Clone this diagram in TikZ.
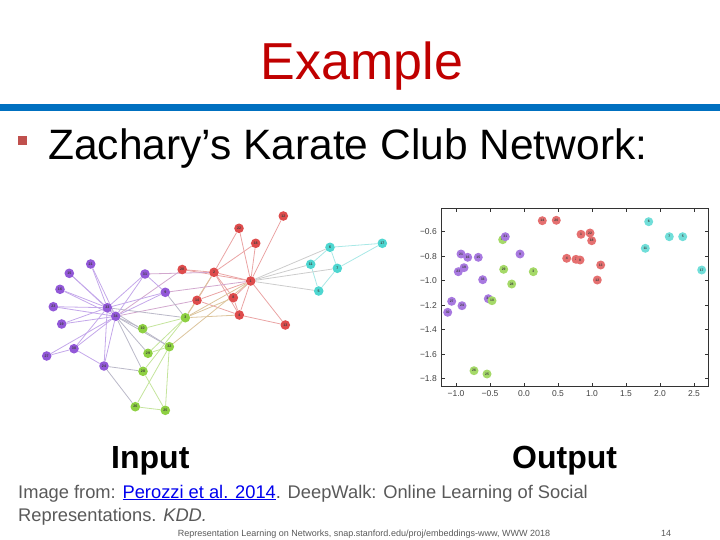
\documentclass[tikz,border=0pt]{standalone}
\usepackage{fontspec}
\setmainfont{Liberation Sans}
\usetikzlibrary{backgrounds}
\definecolor{titlered}{RGB}{192,0,0}
\definecolor{barblue}{RGB}{0,112,192}
\definecolor{bulletred}{RGB}{192,80,77}
\definecolor{citegray}{RGB}{89,89,89}
\definecolor{linkblue}{RGB}{0,0,238}
\definecolor{cP}{RGB}{146,88,216}
\definecolor{cR}{RGB}{222,76,76}
\definecolor{cG}{RGB}{142,208,66}
\definecolor{cC}{RGB}{78,214,208}
\definecolor{eP}{RGB}{196,168,234}
\definecolor{eR}{RGB}{234,164,164}
\definecolor{eG}{RGB}{196,228,156}
\definecolor{eC}{RGB}{168,232,230}
\definecolor{eRP}{RGB}{210,168,206}
\definecolor{eRG}{RGB}{220,196,156}
\definecolor{eGP}{RGB}{186,184,200}
\definecolor{eRC}{RGB}{204,204,204}
\begin{document}
\begin{tikzpicture}[x=1pt,y=-1pt,
  gnode/.style={circle,inner sep=0pt,minimum size=9.6pt,
    font=\fontsize{3.6}{4}\selectfont\bfseries,text=black!75},
  pn/.style={gnode,fill=cP},
  rn/.style={gnode,fill=cR},
  gn/.style={gnode,fill=cG},
  cn/.style={gnode,fill=cC},
  snode/.style={circle,inner sep=0pt,minimum size=9pt,
    font=\fontsize{3.4}{4}\selectfont\bfseries,text=black!75},
  sp/.style={snode,fill=cP!80!white},
  sr/.style={snode,fill=cR!80!white},
  sg/.style={snode,fill=cG!80!white},
  sc/.style={snode,fill=cC!80!white},
  edgeP/.style={draw=eP,line width=0.8pt},
  edgeR/.style={draw=eR,line width=0.8pt},
  edgeG/.style={draw=eG,line width=0.8pt},
  edgeC/.style={draw=eC,line width=0.8pt},
  edgeRP/.style={draw=eRP,line width=0.8pt},
  edgeRG/.style={draw=eRG,line width=0.8pt},
  edgeGP/.style={draw=eGP,line width=0.8pt},
  edgeRC/.style={draw=eRC,line width=0.8pt},
  tick/.style={draw=black!80,line width=0.5pt},
  ticklab/.style={font=\fontsize{8.5}{10}\selectfont,text=black!75,inner sep=0pt}
]
\useasboundingbox (0,0) rectangle (720,540);

% ---------- header ----------
\node[anchor=base,text=titlered,font=\fontsize{52}{60}\selectfont,inner sep=0pt] (title) at (362,80) {Example};
\fill[barblue] (0,104.5) rectangle (720,111.5);
\fill[bulletred] (18,136) rectangle (27,145);
\node[anchor=base west,font=\fontsize{42.5}{48}\selectfont,inner sep=0pt] (bullet) at (48,160) {Zachary’s Karate Club Network:};

% ---------- input graph: nodes ----------
\node[rn] (n1) at (250.7,281) {1};
\node[rn] (n2) at (214,272.3) {2};
\node[gn] (n3) at (185.3,317.7) {3};
\node[rn] (n4) at (239.3,315) {4};
\node[cn] (n5) at (318.7,291) {5};
\node[cn] (n6) at (330,247.3) {6};
\node[cn] (n7) at (337.3,268.3) {7};
\node[rn] (n8) at (233.3,297.7) {8};
\node[pn] (n9) at (165.3,292.3) {9};
\node[gn] (n10) at (142.7,328.7) {10};
\node[cn] (n11) at (310.7,264.3) {11};
\node[rn] (n12) at (283.3,216) {12};
\node[rn] (n13) at (285.3,325) {13};
\node[rn] (n14) at (197,300.3) {14};
\node[pn] (n15) at (69.3,273.3) {15};
\node[pn] (n16) at (60,289.3) {16};
\node[cn] (n17) at (382.3,243.3) {17};
\node[rn] (n18) at (255.7,243.3) {18};
\node[pn] (n19) at (61.7,324) {19};
\node[rn] (n20) at (182.2,269.5) {20};
\node[pn] (n21) at (90.7,264) {21};
\node[rn] (n22) at (239,228.3) {22};
\node[pn] (n23) at (53.3,306.7) {23};
\node[pn] (n24) at (104,366) {24};
\node[gn] (n25) at (165.3,410.3) {25};
\node[gn] (n26) at (135.3,406.7) {26};
\node[pn] (n27) at (46.7,356) {27};
\node[gn] (n28) at (143,371.3) {28};
\node[gn] (n29) at (148,353.3) {29};
\node[pn] (n30) at (74,348.7) {30};
\node[pn] (n31) at (145,274) {31};
\node[gn] (n32) at (169.3,346.7) {32};
\node[pn] (n33) at (107.3,307.7) {33};
\node[pn] (n34) at (115.7,316.3) {34};

% ---------- input graph: edges ----------
\begin{scope}[on background layer]
\foreach \a/\b in {1/2,1/4,1/8,1/12,1/13,1/14,1/18,1/20,1/22,2/4,2/8,2/14,2/18,2/20,2/22,4/8,4/13,4/14}
  \draw[edgeR] (n\a) -- (n\b);
\foreach \a/\b in {5/7,5/11,6/7,6/11,6/17,7/17}
  \draw[edgeC] (n\a) -- (n\b);
\foreach \a/\b in {1/5,1/6,1/7,1/11}
  \draw[edgeRC] (n\a) -- (n\b);
\foreach \a/\b in {3/10,3/28,3/29,25/26,25/28,25/32,26/32,29/32}
  \draw[edgeG] (n\a) -- (n\b);
\foreach \a/\b in {1/3,1/32,2/3,3/4,3/8,3/14}
  \draw[edgeRG] (n\a) -- (n\b);
\foreach \a/\b in {1/9,2/31,14/34,20/34}
  \draw[edgeRP] (n\a) -- (n\b);
\foreach \a/\b in {3/9,3/33,10/34,24/26,24/28,28/34,29/34,32/33,32/34}
  \draw[edgeGP] (n\a) -- (n\b);
\foreach \a/\b in {9/31,9/33,9/34,15/33,15/34,16/33,16/34,19/33,19/34,21/33,21/34,23/33,23/34,24/30,24/33,24/34,27/30,27/34,30/33,30/34,31/33,31/34,33/34}
  \draw[edgeP] (n\a) -- (n\b);
\end{scope}

% ---------- output scatter: axes ----------
\draw[line width=0.8pt,draw=black!80] (441,208.5) rectangle (708.7,386);
\foreach \v/\x in {-1.0/456,-0.5/490,0.0/524,0.5/558,1.0/592,1.5/626,2.0/660,2.5/694}{
  \draw[tick] (\x,386) -- (\x,382.5);
  \draw[tick] (\x,208.5) -- (\x,212);
}
\foreach \lab/\x in {−1.0/456,−0.5/490,0.0/524,0.5/558,1.0/592,1.5/626,2.0/660,2.5/694}
  \node[ticklab,anchor=north] at (\x,390) {\lab};
\foreach \lab/\y in {−0.6/231.7,−0.8/256.2,−1.0/280.7,−1.2/305.2,−1.4/329.7,−1.6/354.2,−1.8/378.7}{
  \draw[tick] (441,\y) -- (444.5,\y);
  \draw[tick] (708.7,\y) -- (705.2,\y);
  \node[ticklab,anchor=east] at (437,\y) {\lab};
}

% ---------- output scatter: points ----------
\node[sg] (s32) at (502.7,239.7) {32};
\node[sp] (s31) at (505.3,236.7) {31};
\node[sp] (s9) at (520,254) {9};
\node[sp] (s21) at (461,254) {21};
\node[sp] (s16) at (467.7,257.3) {16};
\node[sp] (s15) at (478.3,257.3) {15};
\node[sp] (s19) at (464,267.7) {19};
\node[sp] (s23) at (458.3,271.7) {23};
\node[sp] (s33) at (482.7,279.7) {33};
\node[sp] (s27) at (451.7,301.3) {27};
\node[sp] (s24) at (462,305.7) {24};
\node[sp] (s30) at (447.7,312.3) {30};
\node[sp] (s34) at (488.3,298.7) {34};
\node[sg] (s10) at (492,300.7) {10};
\node[sg] (s29) at (503.7,269.3) {29};
\node[sg] (s3) at (533.3,271.7) {3};
\node[sg] (s28) at (511.7,284) {28};
\node[sg] (s26) at (474,370.7) {26};
\node[sg] (s25) at (487,374) {25};
\node[sr] (s14) at (542.3,220.7) {14};
\node[sr] (s20) at (556.3,220.3) {20};
\node[sr] (s1) at (581,234.3) {1};
\node[sr] (s22) at (590,233) {22};
\node[sr] (s18) at (591.7,240.7) {18};
\node[sr] (s4) at (566.7,258.3) {4};
\node[sr] (s2) at (576,259.3) {2};
\node[sr] (s8) at (580,260) {8};
\node[sr] (s13) at (600.7,265) {13};
\node[sr] (s12) at (597.3,280) {12};
\node[sc] (s6) at (648.7,221.7) {6};
\node[sc] (s7) at (669.3,236.7) {7};
\node[sc] (s5) at (682.7,236.7) {5};
\node[sc] (s11) at (645.3,248.3) {11};
\node[sc] (s17) at (701.7,270) {17};

% ---------- captions ----------
\node[anchor=base west,font=\fontsize{32}{36}\selectfont\bfseries,inner sep=0pt] (inlab) at (111,468) {Input};
\node[anchor=base west,font=\fontsize{32}{36}\selectfont\bfseries,inner sep=0pt] (outlab) at (512,468) {Output};

\node[anchor=base west,font=\fontsize{18.3}{22}\selectfont,text=citegray,inner sep=0pt] (cite1) at (18,498)
  {Image from: \textcolor{linkblue}{\underline{Perozzi et al. 2014}}. DeepWalk: Online Learning of Social};
\node[anchor=base west,font=\fontsize{18.3}{22}\selectfont,text=citegray,inner sep=0pt] (cite2) at (18,521)
  {Representations. \textit{KDD.}};

\node[anchor=base,font=\fontsize{9}{10}\selectfont,text=citegray,inner sep=0pt] (footer) at (364,536)
  {Representation Learning on Networks, snap.stanford.edu/proj/embeddings-www, WWW 2018};
\node[anchor=base,font=\fontsize{9}{10}\selectfont,text=citegray,inner sep=0pt] (pagenum) at (666,536) {14};
\end{tikzpicture}
\end{document}
